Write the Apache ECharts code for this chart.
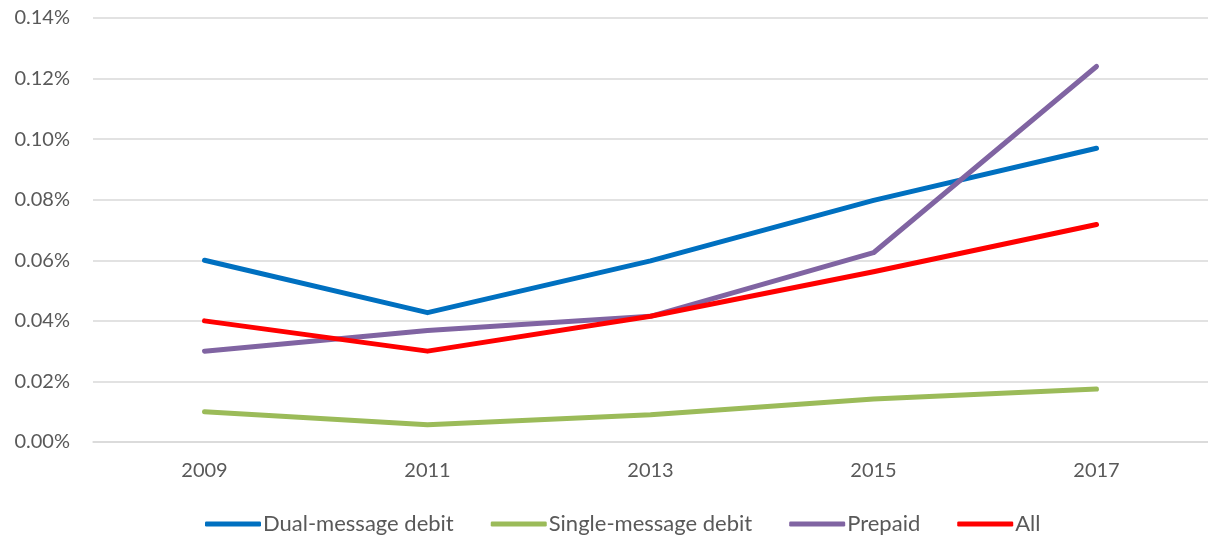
<!DOCTYPE html>
<html>
<head>
<meta charset="utf-8">
<script src="https://cdn.jsdelivr.net/npm/echarts@6/dist/echarts.min.js"></script>
<style>
  html, body { margin: 0; padding: 0; background: #fff; }
  #chart { width: 1208px; height: 543px; }
</style>
</head>
<body>
<div id="chart"></div>
<script>
// values in percent
const years = ['2009', '2011', '2013', '2015', '2017'];
const dualMessage = [0.060, 0.0427, 0.0598, 0.0798, 0.0970];
const singleMessage = [0.0100, 0.0057, 0.0090, 0.0142, 0.0175];
const prepaid = [0.0300, 0.0368, 0.0415, 0.0625, 0.1240];
const allCards = [0.0400, 0.0300, 0.0415, 0.0562, 0.0718];

const font = 'Lato, "Open Sans", sans-serif';

let chart = echarts.init(document.getElementById('chart'));

function line(name, data, color) {
  return {
    name: name,
    type: 'line',
    data: data,
    symbol: 'none',
    lineStyle: { color: color, width: 5, cap: 'round', join: 'round' },
    itemStyle: { color: color }
  };
}

chart.setOption({
  animation: false,
  textStyle: { fontFamily: font },
  grid: { left: 93, right: 0, top: 18, bottom: 101 },
  legend: {
    bottom: 3,
    left: 200,
    icon: 'roundRect',
    itemWidth: 56,
    itemHeight: 5,
    itemGap: 37,
    textStyle: { fontFamily: font, fontSize: 22, color: '#595959', padding: [0, 0, 0, -3] },
    data: ['Dual-message debit', 'Single-message debit', 'Prepaid', 'All']
  },
  xAxis: {
    type: 'category',
    data: years,
    boundaryGap: true,
    axisLine: { show: true, lineStyle: { color: '#d9d9d9', width: 1.5 } },
    axisTick: { show: false },
    axisLabel: { fontFamily: font, fontSize: 20, color: '#595959', margin: 19 }
  },
  yAxis: {
    type: 'value',
    min: 0,
    max: 0.14,
    interval: 0.02,
    axisLine: { show: false },
    axisTick: { show: false },
    splitLine: { lineStyle: { color: '#d9d9d9', width: 1.5 } },
    axisLabel: {
      fontFamily: font, fontSize: 20, color: '#595959', margin: 23,
      formatter: v => v.toFixed(2) + '%'
    }
  },
  series: [
    line('Dual-message debit', dualMessage, '#0070C0'),
    line('Single-message debit', singleMessage, '#9BBB59'),
    line('Prepaid', prepaid, '#8064A2'),
    line('All', allCards, '#FF0000')
  ]
});
</script>
</body>
</html>
